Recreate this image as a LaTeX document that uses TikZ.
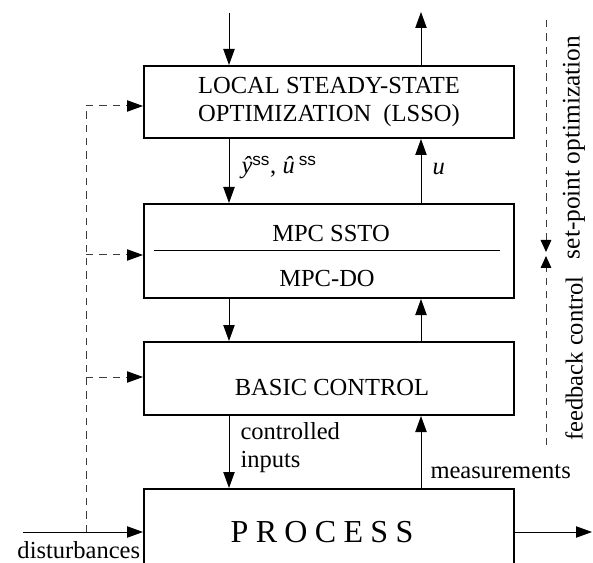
\documentclass[tikz,border=0pt]{standalone}
\usepackage{fontspec}
\setmainfont{Liberation Serif}
\setsansfont{Liberation Sans}
\usetikzlibrary{arrows.meta}

\tikzset{every picture/.style={line width=0.75pt}}

\begin{document}
\begin{tikzpicture}[x=0.75pt,y=0.75pt,yscale=-1,xscale=1,
		blk/.style={draw,line width=1.5pt,minimum width=277.5pt,inner sep=0pt,align=center,font=\fontsize{18.4}{21}\selectfont},
		txt/.style={inner sep=0pt,font=\fontsize{18.4}{21}\selectfont},
		arr/.style={-{Triangle[length=12pt,width=8.5pt,color=black]}},
		sarr/.style={-{Triangle[length=9pt,width=8pt,color=black]}},
		dsh/.style={dash pattern=on 5.5pt off 4.5pt,draw={rgb,255:red,60;green,60;blue,60}}]
		%uncomment if require: \path (0,563); %set diagram left start at 0, and has height of 563
		\clip (0,0) rectangle (593,563);
		
		%Shape: Rectangle [lsso]
		\node[blk,minimum height=54pt] (lsso) at (329,102) {LOCAL STEADY-STATE\\OPTIMIZATION\ \ (LSSO)};
		%Shape: Rectangle [mpc]
		\node[blk,minimum height=70.5pt] (mpc) at (329,251) {};
		%Shape: Rectangle [basic]
		\node[blk,minimum height=54.75pt] (basic) at (329,378.5) {};
		%Shape: Rectangle [process]
		\node[blk,minimum height=83.25pt] (proc) at (329,544.5) {};
		
		\draw ([xshift=8.25pt]mpc.west) -- ([xshift=-11.25pt]mpc.east) ;
		
		\coordinate (lcol) at (229,13) ;
		\coordinate (rcol) at (421,12) ;
		\draw[arr] (lcol) -- (lcol |- lsso.north) ;
		\draw[arr] (rcol |- lsso.north) -- (rcol) ;
		\draw[arr] (lcol |- lsso.south) -- (lcol |- mpc.north) ;
		\draw[arr] (rcol |- mpc.north) -- (rcol |- lsso.south) ;
		\draw[arr] (lcol |- mpc.south) -- (lcol |- basic.north) ;
		\draw[arr] (rcol |- basic.north) -- (rcol |- mpc.south) ;
		\draw[arr] (lcol |- basic.south) -- (lcol |- proc.north) ;
		\draw[arr] (rcol |- proc.north) -- (rcol |- basic.south) ;
		
		\coordinate (dist) at (23,532) ;
		\coordinate (out) at (592,532) ;
		\draw[arr] (dist) -- (dist -| proc.west) ;
		\draw[arr] (proc.east |- out) -- (out) ;
		
		%dashed feedforward of disturbances
		\coordinate (fork) at (86,532) ;
		\coordinate (d1) at (86,106) ;
		\coordinate (d2) at (86,255) ;
		\coordinate (d3) at (86,377) ;
		\draw[dsh] (fork) -- (d1) ;
		\draw[dsh,arr] (d1) -- (d1 -| lsso.west) ;
		\draw[dsh,arr] (d2) -- (d2 -| mpc.west) ;
		\draw[dsh,arr] (d3) -- (d3 -| basic.west) ;
		
		%dashed layer marker on the right
		\coordinate (sptop) at (546,20) ;
		\coordinate (spend) at (546,252) ;
		\coordinate (fbend) at (546,256) ;
		\coordinate (fbbot) at (546,445) ;
		\draw[dsh,sarr] (sptop) -- (spend) ;
		\draw[dsh,sarr] (fbbot) -- (fbend) ;
		
		\node[txt] (ssto) at (331,233) {MPC SSTO};
		\node[txt] (mpcdo) at (327,278) {MPC-DO};
		\node[txt] (basictxt) at (332,387) {BASIC CONTROL};
		\node[txt,font=\fontsize{24}{28}\selectfont] (proctxt) at (322,532) {P\kern5.5pt R\kern5.5pt O\kern5.5pt C\kern5.5pt E\kern5.5pt S\kern5.5pt S};
		
		\node[txt,anchor=base west] (yhat) at (241,174) {\textit{ŷ}\textsuperscript{\textsf{ss}}, \textit{û}\,\textsuperscript{\textsf{ss}}};
		\node[txt,anchor=base west] (ulab) at (432,175) {\textit{u}};
		\node[txt,anchor=north west,align=left] (ctrl) at (240,421.5) {controlled\\inputs};
		\node[txt,anchor=base west] (meas) at (430,478) {measurements};
		\node[txt,anchor=base west] (distlab) at (17,558) {disturbances};
		\node[txt,rotate=90,font=\fontsize{19}{22}\selectfont] (sp) at (574,147.5) {set-point optimization};
		\node[txt,rotate=90] (fb) at (574,358.5) {feedback control};
		
	\end{tikzpicture}
\end{document}
